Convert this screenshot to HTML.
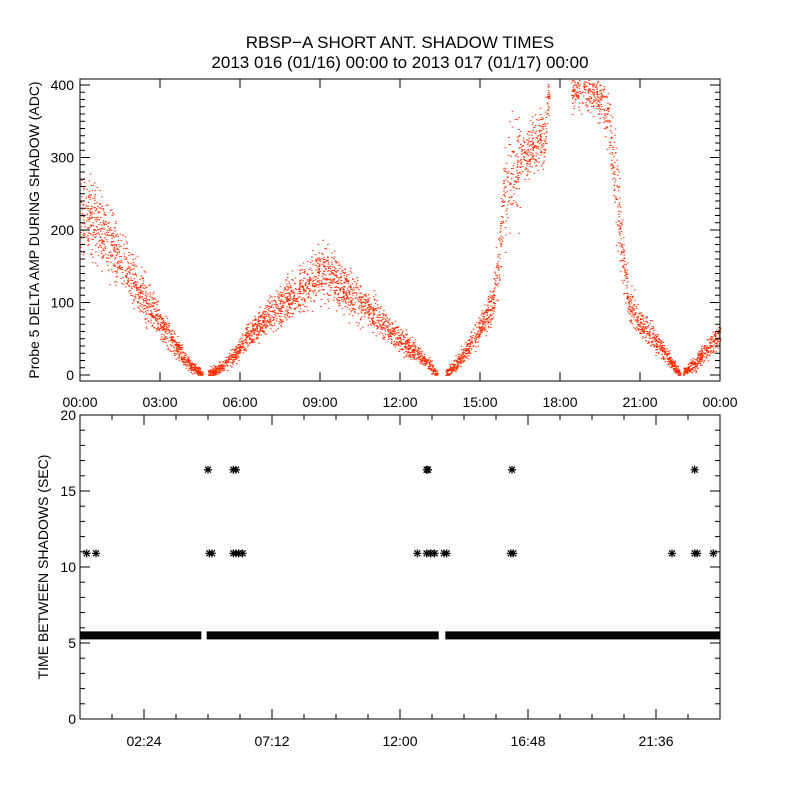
<!DOCTYPE html>
<html><head><meta charset="utf-8"><style>
body{margin:0;background:#fff}
svg{display:block}
text{font-family:"Liberation Sans",sans-serif;fill:#000}
</style></head><body>
<svg id="s" width="800" height="800" xmlns="http://www.w3.org/2000/svg">
<rect width="800" height="800" fill="#fff"/>
<text x="400" y="48" font-size="17" text-anchor="middle">RBSP−A SHORT ANT. SHADOW TIMES</text>
<text x="400" y="68" font-size="17" text-anchor="middle">2013 016 (01/16) 00:00 to 2013 017 (01/17) 00:00</text>
<g id="top"></g><g id="bot"></g><g id="ax"></g>
</svg>
<script>
var NS="http://www.w3.org/2000/svg";
function el(p,t,a,txt){var e=document.createElementNS(NS,t);for(var k in a)e.setAttribute(k,a[k]);if(txt!=null)e.textContent=txt;p.appendChild(e);return e;}
var seed=12345;function rnd(){seed=(seed*1103515245+12345)%2147483648;return seed/2147483648;}
function gauss(){return (rnd()+rnd()+rnd()-1.5)/0.5;}
var ax=document.getElementById('ax'),top_=document.getElementById('top'),bot=document.getElementById('bot');
var X0=80,X1=720;function xh(h){return X0+h*(X1-X0)/24;}
function yt(v){return 375-v*0.725;}
function yb(v){return 719-v*15.2;}
el(ax,'rect',{x:80,y:79,width:640,height:302,fill:'none',stroke:'#000','stroke-width':1});
el(ax,'rect',{x:80,y:415,width:640,height:304,fill:'none',stroke:'#000','stroke-width':1});
var labs=['00:00','03:00','06:00','09:00','12:00','15:00','18:00','21:00','00:00'];
for(var i=0;i<=8;i++){var x=xh(i*3);
 el(ax,'line',{x1:x,y1:381,x2:x,y2:372,stroke:'#000'});el(ax,'line',{x1:x,y1:79,x2:x,y2:88,stroke:'#000'});
 el(ax,'text',{x:x,y:407,'font-size':14,'text-anchor':'middle'},labs[i]);}
for(var v=0;v<=400;v+=10){var y=yt(v),L=(v%100==0)?10:5;
 el(ax,'line',{x1:80,y1:y,x2:80+L,y2:y,stroke:'#000'});el(ax,'line',{x1:720,y1:y,x2:720-L,y2:y,stroke:'#000'});
 if(v%100==0)el(ax,'text',{x:74,y:y+5,'font-size':14,'text-anchor':'end'},String(v));}
el(ax,'text',{transform:'translate(39,230) rotate(-90)','font-size':14,'text-anchor':'middle'},'Probe 5 DELTA AMP DURING SHADOW (ADC)');
var bl={2:'02:24',6:'07:12',10:'12:00',14:'16:48',18:'21:36'};
for(var i=0;i<=20;i++){var x=xh(i*1.2);
 el(ax,'line',{x1:x,y1:719,x2:x,y2:714,stroke:'#000'});el(ax,'line',{x1:x,y1:415,x2:x,y2:420,stroke:'#000'});
 if(bl[i]){el(ax,'line',{x1:x,y1:719,x2:x,y2:709,stroke:'#000'});el(ax,'line',{x1:x,y1:415,x2:x,y2:425,stroke:'#000'});
 el(ax,'text',{x:x,y:746,'font-size':14,'text-anchor':'middle'},bl[i]);}}
for(var v=0;v<=20;v++){var y=yb(v),L=(v%5==0)?10:5;
 el(ax,'line',{x1:80,y1:y,x2:80+L,y2:y,stroke:'#000'});el(ax,'line',{x1:720,y1:y,x2:720-L,y2:y,stroke:'#000'});
 if(v%5==0)el(ax,'text',{x:76,y:y+5,'font-size':14,'text-anchor':'end'},String(v));}
el(ax,'text',{transform:'translate(48,567) rotate(-90)','font-size':14,'text-anchor':'middle'},'TIME BETWEEN SHADOWS (SEC)');
var segs=[
[[0,225],[0.5,215],[1,185],[1.5,160],[2,130],[2.5,100],[3,72],[3.5,45],[4,18],[4.6,0]],
[[4.8,2],[5.3,10],[5.7,25],[6,38],[6.3,55],[6.7,70],[7,80],[7.5,95],[8,110],[8.5,125],[9,140],[9.3,140],[9.7,125],[10,115],[10.5,100],[11,85],[11.5,68],[12,50],[12.5,35],[13,18],[13.4,0]],
[[13.7,2],[14.2,20],[14.6,40],[15,65],[15.4,95],[15.6,130],[15.75,180],[15.9,250],[16.1,280],[16.5,300],[17,315],[17.4,325],[17.5,360],[17.6,400]],
[[18.4,400],[19,400],[19.5,385],[19.8,350],[20.0,300],[20.15,240],[20.3,180],[20.45,130],[20.6,100],[21,70],[21.5,50],[22,28],[22.5,0]],
[[22.6,3],[23,15],[23.5,35],[24,60]]];
function interp(seg,h){for(var i=0;i<seg.length-1;i++){if(h>=seg[i][0]&&h<=seg[i+1][0]){var t=(h-seg[i][0])/(seg[i+1][0]-seg[i][0]);return seg[i][1]+t*(seg[i+1][1]-seg[i][1]);}}return null;}
var pts='';
segs.forEach(function(seg){var h0=seg[0][0],h1=seg[seg.length-1][0];var n=Math.round((h1-h0)*230);
 for(var k=0;k<n;k++){var h=h0+rnd()*(h1-h0);var m=interp(seg,h);var sp=m*0.11+3;if(m>300)sp=18;var v=m+gauss()*sp;
  if(v<0)v=Math.abs(v)*0.3;var y=yt(v);if(y<80)continue;var x=xh(h);
  pts+='M'+x.toFixed(1)+' '+y.toFixed(1)+'h1.5v1h-1.5z';}});
el(top_,'path',{d:pts,fill:'#ff2a00'});
function band(a,b){el(bot,'rect',{x:xh(a),y:yb(5.5)-4,width:xh(b)-xh(a),height:8,fill:'#000'});}
band(0,4.55);band(4.75,13.45);band(13.7,24);
function star(h,v){var x=xh(h),y=yb(v),r=4;
 el(bot,'path',{d:'M'+(x-r)+' '+y+'h'+2*r+'M'+x+' '+(y-r)+'v'+2*r+'M'+(x-3)+' '+(y-3)+'l6 6M'+(x-3)+' '+(y+3)+'l6 -6',stroke:'#000','stroke-width':1.2,fill:'none'});}
[[0.25,10.9],[0.6,10.9],[4.8,16.4],[4.85,10.9],[4.95,10.9],[5.75,16.4],[5.85,16.4],[5.75,10.9],[5.85,10.9],[5.95,10.9],[6.1,10.9],
[12.65,10.9],[13.0,16.4],[13.05,16.4],[13.0,10.9],[13.15,10.9],[13.3,10.9],[13.65,10.9],[13.75,10.9],[16.2,16.4],[16.15,10.9],[16.25,10.9],
[22.2,10.9],[23.05,16.4],[23.05,10.9],[23.15,10.9],[23.75,10.9]].forEach(function(p){star(p[0],p[1]);});
</script>
</body></html>
